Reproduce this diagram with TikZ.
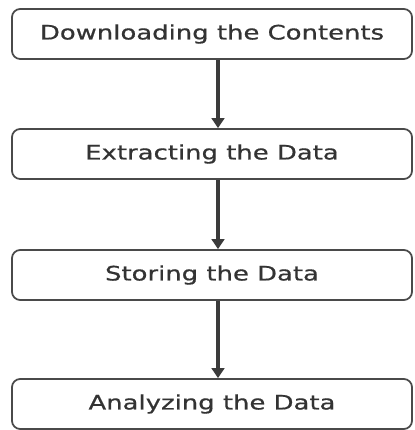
\documentclass[tikz,border=0pt]{standalone}
\usepackage{fontspec}
\newfontfamily\stepfont[FakeStretch=1.3,FakeBold=0.6]{DejaVu Sans}
\usetikzlibrary{arrows.meta}
\definecolor{boxline}{HTML}{4A4A4A}
\definecolor{boxtext}{HTML}{333333}
\tikzset{stagebox/.style={draw=boxline, line width=1.5pt, rounded corners=7pt, minimum width=12cm, minimum height=1.5cm, text=boxtext, font=\stepfont\fontsize{17}{20}\selectfont, inner sep=0pt},
  flowarrow/.style={draw=boxline!80!black, line width=2.6pt, -{Triangle[width=0.38cm,length=0.3cm]}}}

\begin{document}
\begin{tikzpicture}
  \useasboundingbox (0,0) rectangle (12.45,12.9);
  \node[stagebox] (download) at (6.36,11.88) {Downloading the Contents};
  \node[stagebox] (extract)  at (6.36, 8.28) {Extracting the Data};
  \node[stagebox] (store)    at (6.36, 4.65) {Storing the Data};
  \node[stagebox] (analyze)  at (6.36, 0.78) {Analyzing the Data};
  \draw[flowarrow] ([xshift=0.18cm]download.south) -- ([xshift=0.18cm]extract.north);
  \draw[flowarrow] ([xshift=0.18cm]extract.south) -- ([xshift=0.18cm]store.north);
  \draw[flowarrow] ([xshift=0.18cm]store.south) -- ([xshift=0.18cm]analyze.north);
\end{tikzpicture}
\end{document}
